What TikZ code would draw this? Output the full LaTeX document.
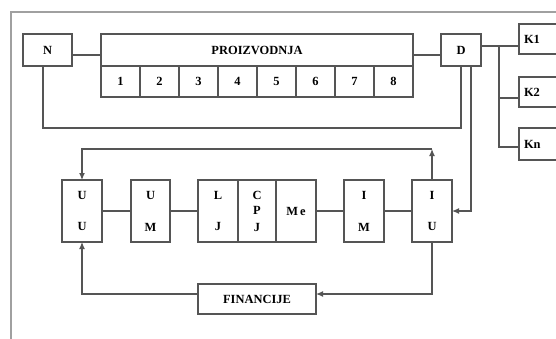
\documentclass[tikz,border=0pt]{standalone}
\usepackage{fontspec}
\setmainfont{Liberation Serif}
\usetikzlibrary{arrows.meta}
\definecolor{boxc}{HTML}{555555}
\definecolor{framec}{HTML}{A0A0A0}
\begin{document}
\begin{tikzpicture}[x=1bp,y=-1bp,
  box/.style={draw=boxc,line width=1.2bp,inner sep=0pt,outer sep=0pt,
    font=\fontsize{12.5}{16}\selectfont\bfseries,align=center,text=black},
  conn/.style={draw=boxc,line width=1.2bp},
  arr/.style={conn,-{Latex[length=7bp,width=6bp]}}]
\useasboundingbox (0,0) rectangle (556,338);
\clip (0,0) rectangle (556,338);
\fill[white] (0,0) rectangle (556,338);
% frame
\draw[framec,line width=1.5bp] (560,12) -- (11,12) -- (11,342);
% top row
\node[box,minimum width=49bp,minimum height=32bp] (N) at (47.5,50) {N};
\node[box,minimum width=312bp,minimum height=32bp] (P) at (257,50) {PROIZVODNJA};
\foreach \i in {1,...,8}{
  \node[box,minimum width=39bp,minimum height=31bp] (c\i) at ({101+39*(\i-0.5)},81.5) {\i};
}
\node[box,minimum width=40bp,minimum height=32bp] (D) at (461,50) {D};
\node[box,minimum width=50bp,minimum height=30bp,text width=46bp,align=left] (K1) at (544,39) {\hspace*{3bp}K1};
\node[box,minimum width=50bp,minimum height=30bp,text width=46bp,align=left] (K2) at (544,92) {\hspace*{3bp}K2};
\node[box,minimum width=50bp,minimum height=32bp,text width=46bp,align=left] (Kn) at (544,144) {\hspace*{3bp}Kn};
% bottom row
\node[box,minimum width=40bp,minimum height=62bp] (UU) at (82,211) {U\\[16bp]U};
\node[box,minimum width=39bp,minimum height=62bp] (UM) at (150.5,211) {U\\[16bp]M};
\node[box,minimum width=40bp,minimum height=62bp] (LJ) at (218,211) {L\\[16bp]J};
\node[box,minimum width=38bp,minimum height=62bp] (CPJ) at (257,211) {C\\[-1bp]P\\[1bp]J};
\node[box,minimum width=40bp,minimum height=62bp] (Me) at (296,211) {M\,e};
\node[box,minimum width=40bp,minimum height=62bp] (IM) at (364,211) {I\\[16bp]M};
\node[box,minimum width=40bp,minimum height=62bp] (IU) at (432,211) {I\\[16bp]U};
\node[box,minimum width=118bp,minimum height=30bp] (FIN) at (257,299) {FINANCIJE};
% coordinates
\coordinate (bus) at (499,46);
\coordinate (busK2) at (499,98);
\coordinate (busKn) at (499,147);
\coordinate (loopL) at (43,128);
\coordinate (loopR) at (461,128);
\coordinate (dr) at (471,211);
\coordinate (tr) at (432,149);
\coordinate (tl) at (82,149);
\coordinate (br) at (432,294);
\coordinate (bl) at (82,294);
% connectors top
\draw[conn] ([yshift=-5bp]N.east) -- ([yshift=-5bp]P.west);
\draw[conn] ([yshift=-5bp]P.east) -- ([yshift=-5bp]D.west);
\draw[conn] (D.east |- bus) -- (K1.west |- bus);
\draw[conn] (bus) -- (busKn) -- (Kn.west |- busKn);
\draw[conn] (busK2) -- (K2.west |- busK2);
\draw[conn] (N.south -| loopL) -- (loopL) -- (loopR) -- (D.south -| loopR);
\draw[arr] (D.south -| dr) -- (dr) -- (IU.east);
% row connectors
\draw[conn] (UU.east) -- (UM.west);
\draw[conn] (UM.east) -- (LJ.west);
\draw[conn] (Me.east) -- (IM.west);
\draw[conn] (IM.east) -- (IU.west);
% loops
\draw[arr] (IU.north) -- (tr);
\draw[arr] (tr) -- (tl) -- (UU.north);
\draw[arr] (IU.south) -- (br) -- (br -| FIN.east);
\draw[arr] (bl -| FIN.west) -- (bl) -- (UU.south);
\end{tikzpicture}
\end{document}
